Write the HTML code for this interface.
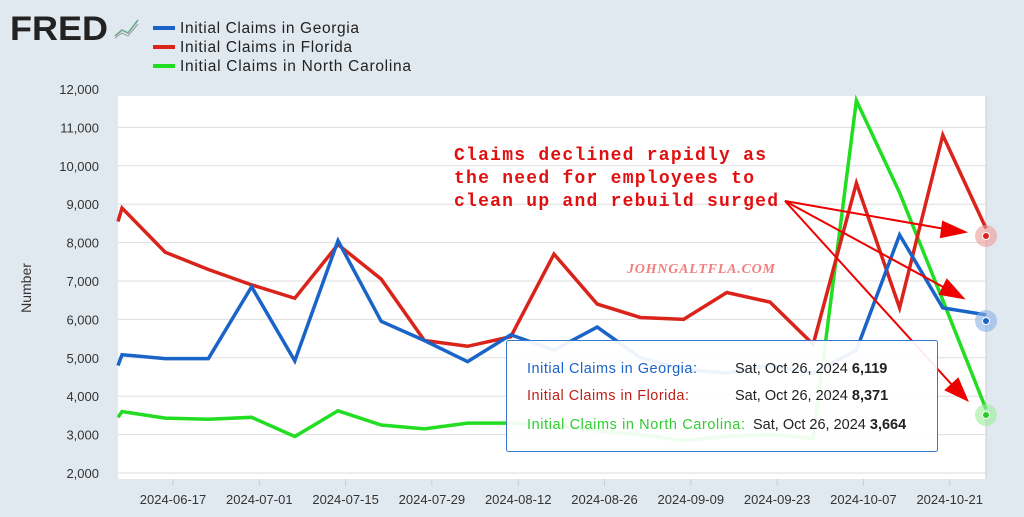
<!DOCTYPE html>
<html><head><meta charset="utf-8"><style>
body{margin:0;width:1024px;height:517px;background:#e1e9f0;overflow:hidden;font-family:"Liberation Sans",sans-serif}
svg{position:absolute;left:0;top:0}
</style></head><body>
<svg id="s" width="1024" height="517" xmlns="http://www.w3.org/2000/svg">
<text x="10" y="40" font-family="Liberation Sans" font-weight="bold" font-size="34" fill="#222" textLength="98" lengthAdjust="spacingAndGlyphs">FRED</text>
<polyline points="115,36 122,30 128,33 138,20" fill="none" stroke="#6a8" stroke-width="1.5"/>
<polyline points="115,38 122,33 128,36 138,24" fill="none" stroke="#999" stroke-width="1"/>
<rect x="153" y="26" width="22" height="4" fill="#1a64c8"/>
<rect x="153" y="45" width="22" height="4" fill="#d9231b"/>
<rect x="153" y="64" width="22" height="4" fill="#22dd22"/>
<g font-size="15.5" fill="#222"><text x="180" y="33" textLength="179">Initial Claims in Georgia</text><text x="180" y="52" textLength="172">Initial Claims in Florida</text><text x="180" y="71" textLength="231">Initial Claims in North Carolina</text></g>
<rect x="118" y="96" width="868" height="383" fill="#fff"/>
<line x1="986" y1="96" x2="986" y2="479" stroke="#ccc"/>
<g id="grid" stroke="#ddd"></g>
<g id="ylab" font-size="13" fill="#333" text-anchor="end"></g>
<text transform="translate(31,288) rotate(-90)" font-size="14" fill="#333" text-anchor="middle">Number</text>
<g id="xlab" font-size="13" fill="#333" text-anchor="middle"></g>
<text x="701" y="273" font-family="Liberation Serif" font-style="italic" font-weight="bold" font-size="14" fill="#f08080" text-anchor="middle" textLength="148">JOHNGALTFLA.COM</text>
<g id="lines" fill="none" stroke-width="3.5" stroke-linejoin="miter"></g>
<circle cx="986" cy="236" r="11" fill="#e99" opacity="0.6"/><circle cx="986" cy="236" r="3.5" fill="#d9231b" stroke="#fff"/>
<circle cx="986" cy="321" r="11" fill="#8ab0e8" opacity="0.6"/><circle cx="986" cy="321" r="3.5" fill="#1a64c8" stroke="#fff"/>
<circle cx="986" cy="415" r="11" fill="#9e9" opacity="0.6"/><circle cx="986" cy="415" r="3.5" fill="#22cc22" stroke="#fff"/>
<g font-family="Liberation Mono" font-weight="bold" font-size="18" fill="#e01010"><text x="454" y="160" textLength="312">Claims declined rapidly as</text><text x="454" y="183" textLength="300">the need for employees to</text><text x="454" y="206" textLength="324">clean up and rebuild surged</text></g>
<g stroke="#e00" stroke-width="2" fill="#e00">
<line x1="785" y1="201" x2="945" y2="229"/><polygon points="965,232 943,222 941,237"/>
<line x1="785" y1="201" x2="945" y2="288"/><polygon points="963,298 947,280 940,294"/>
<line x1="785" y1="201" x2="953" y2="386"/><polygon points="967,400 958,379 946,390"/>
</g>
<rect x="506.5" y="340.5" width="431" height="111" fill="#fff" fill-opacity="0.93" stroke="#3a78c8" rx="2"/>
<g font-size="14.5"><text x="527" y="373" fill="#1a64c8" textLength="170">Initial Claims in Georgia:</text><text x="735" y="373" fill="#222">Sat, Oct 26, 2024 <tspan font-weight="bold">6,119</tspan></text>
<text x="527" y="400" fill="#c0201a" textLength="162">Initial Claims in Florida:</text><text x="735" y="400" fill="#222">Sat, Oct 26, 2024 <tspan font-weight="bold">8,371</tspan></text>
<text x="527" y="429" fill="#33cc33" textLength="218">Initial Claims in North Carolina:</text><text x="753" y="429" fill="#222">Sat, Oct 26, 2024 <tspan font-weight="bold">3,664</tspan></text></g>
</svg>
<script>
var NS="http://www.w3.org/2000/svg";
function y(v){return 89+(12000-v)*0.0384}
function el(p,t,a,txt){var e=document.createElementNS(NS,t);for(var k in a)e.setAttribute(k,a[k]);if(txt)e.textContent=txt;document.getElementById(p).appendChild(e);return e}
for(var v=2000;v<=12000;v+=1000){var yy=y(v);if(v<12000)el("grid","line",{x1:118,x2:986,y1:yy,y2:yy});el("ylab","text",{x:99,y:yy+5},v.toLocaleString("en-US"))}
var d=["2024-06-17","2024-07-01","2024-07-15","2024-07-29","2024-08-12","2024-08-26","2024-09-09","2024-09-23","2024-10-07","2024-10-21"];
for(var i=0;i<d.length;i++){var x=173+i*86.3;el("grid","line",{x1:x,x2:x,y1:479,y2:486,stroke:"#ccc"});el("xlab","text",{x:x,y:504},d[i])}
function X(i){return 122+i*43.2}
var s=[["#22dd22",3450,[3600,3430,3400,3450,2950,3620,3250,3150,3300,3300,3250,3100,3000,2850,2950,3000,2900,11700,9300,6500,3664]],
["#d9231b",8550,[8900,7750,7300,6900,6550,7950,7050,5450,5300,5550,7700,6400,6050,6000,6700,6450,5350,9550,6300,10800,8371]],
["#1a64c8",4800,[5080,4980,4980,6850,4920,8050,5950,5450,4900,5600,5200,5800,5000,4700,4600,4800,4600,5200,8200,6300,6119]]];
s.forEach(function(r){var p="118,"+y(r[1]);r[2].forEach(function(v,i){p+=" "+X(i)+","+y(v)});el("lines","polyline",{points:p,stroke:r[0]})});
</script>
</body></html>
